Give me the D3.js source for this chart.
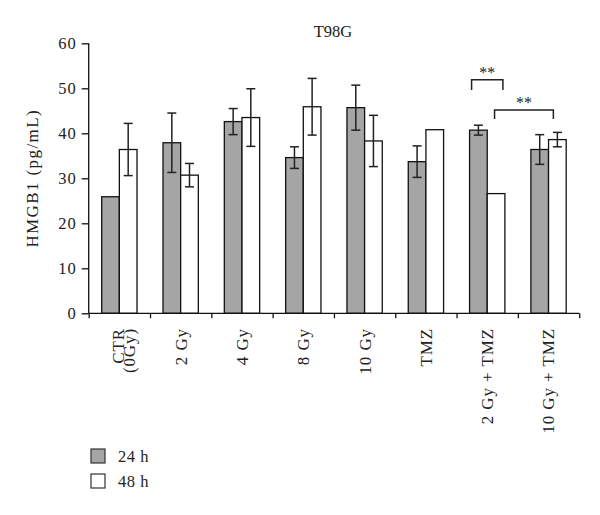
<!DOCTYPE html>
<html>
<head>
<meta charset="utf-8">
<script src="https://cdn.jsdelivr.net/npm/d3@7"></script>
<style>
  body { margin: 0; background: #fff; }
  svg text { font-family: "Liberation Serif", "DejaVu Serif", serif; fill: #222; }
</style>
</head>
<body>
<svg id="chart" width="600" height="515"></svg>
<script>
// data
const categories = ["CTR (0Gy)", "2 Gy", "4 Gy", "8 Gy", "10 Gy", "TMZ", "2 Gy + TMZ", "10 Gy + TMZ"];
const series = ["24 h", "48 h"];
const values24 = [25.9, 37.9, 42.6, 34.6, 45.7, 33.7, 40.7, 36.4];
const errors24 = [0, 6.6, 2.9, 2.4, 5.0, 3.5, 1.1, 3.3];
const values48 = [36.4, 30.7, 43.5, 45.9, 38.3, 40.8, 26.6, 38.6];
const errors48 = [5.8, 2.6, 6.4, 6.3, 5.7, 0, 0, 1.6];
const yTicks = [0, 10, 20, 30, 40, 50, 60];
// significance brackets
const brackets = [
  {c1: "2 Gy + TMZ", s1: "24 h", c2: "2 Gy + TMZ", s2: "48 h", top: 51.9, low: 49.6, label: "**"},
  {c1: "2 Gy + TMZ", s1: "48 h", c2: "10 Gy + TMZ", s2: "48 h", top: 45.2, low: 43.2, label: "**"}
];

const svg = d3.select("#chart");
const plotLeft = 88.7, plotRight = 579.2, plotTop = 43.3, plotBottom = 313.3;

const x0 = d3.scaleBand().domain(categories).range([plotLeft, plotRight]);
const x1 = d3.scaleBand().domain(series).range([13, x0.bandwidth() - 13]);
const y = d3.scaleLinear().domain([0, 60]).range([plotBottom, plotTop]);
const color = d3.scaleOrdinal().domain(series).range(["#a5a5a5", "#ffffff"]);

const rows = categories.map((c, i) => ({
  cat: c,
  items: [
    {s: "24 h", v: values24[i], e: errors24[i]},
    {s: "48 h", v: values48[i], e: errors48[i]}
  ]
}));

// bars
const groups = svg.append("g").selectAll("g")
  .data(rows).enter().append("g")
  .attr("transform", d => `translate(${x0(d.cat)},0)`);

groups.selectAll("rect")
  .data(d => d.items).enter().append("rect")
  .attr("x", d => x1(d.s))
  .attr("y", d => y(d.v))
  .attr("width", x1.bandwidth())
  .attr("height", d => y(0) - y(d.v))
  .attr("fill", d => color(d.s))
  .attr("stroke", "#111")
  .attr("stroke-width", 1.3);

// error bars
const cap = 4.5;
const eb = groups.selectAll("g.err")
  .data(d => d.items.filter(it => it.e > 0)).enter().append("g")
  .attr("class", "err")
  .attr("stroke", "#222")
  .attr("stroke-width", 1.5);
eb.append("line")
  .attr("x1", d => x1(d.s) + x1.bandwidth() / 2)
  .attr("x2", d => x1(d.s) + x1.bandwidth() / 2)
  .attr("y1", d => y(d.v + d.e))
  .attr("y2", d => y(d.v - d.e));
eb.append("line")
  .attr("x1", d => x1(d.s) + x1.bandwidth() / 2 - cap)
  .attr("x2", d => x1(d.s) + x1.bandwidth() / 2 + cap)
  .attr("y1", d => y(d.v + d.e))
  .attr("y2", d => y(d.v + d.e));
eb.append("line")
  .attr("x1", d => x1(d.s) + x1.bandwidth() / 2 - cap)
  .attr("x2", d => x1(d.s) + x1.bandwidth() / 2 + cap)
  .attr("y1", d => y(d.v - d.e))
  .attr("y2", d => y(d.v - d.e));

// y axis
const yAxis = svg.append("g")
  .attr("transform", `translate(${plotLeft},0)`)
  .call(d3.axisLeft(y).tickValues(yTicks).tickSize(7).tickPadding(5));
yAxis.selectAll("text")
  .style("font-size", "16.5px")
  .style("letter-spacing", "1px")
  .attr("fill", "#222");
yAxis.selectAll("line, path").attr("stroke", "#111").attr("stroke-width", 1.3);
yAxis.select(".domain").attr("d", `M0,${plotBottom}V${plotTop}`);

// x axis: ticks at the band edges
const xEdge = d3.scaleLinear().domain([0, categories.length]).range([plotLeft, plotRight]);
const xAxis = svg.append("g")
  .attr("transform", `translate(0,${plotBottom})`)
  .call(d3.axisBottom(xEdge).ticks(categories.length).tickSize(5).tickFormat(""));
xAxis.selectAll("line, path").attr("stroke", "#111").attr("stroke-width", 1.3);
xAxis.select(".domain").attr("d", `M${plotLeft},0H${plotRight}`);

// category labels, rotated
const labelTop = 328;
const xl = svg.append("g").selectAll("text")
  .data(categories).enter().append("text")
  .attr("transform", d => `translate(${x0(d) + x0.bandwidth() / 2},${labelTop}) rotate(-90)`)
  .attr("text-anchor", "end")
  .style("font-size", "17px")
  .style("letter-spacing", "0.9px");
xl.each(function(d) {
  const t = d3.select(this);
  if (d === "CTR (0Gy)") {
    t.append("tspan").attr("x", 0).attr("dy", "4.5").text("CTR");
    t.append("tspan").attr("x", 0).attr("dy", "11").text("(0Gy)");
  } else {
    t.attr("dy", "0.35em").text(d);
  }
});

// title
svg.append("text")
  .attr("x", 333).attr("y", 37)
  .attr("text-anchor", "middle")
  .style("font-size", "16.5px")
  .text("T98G");

// y label
svg.append("text")
  .attr("transform", `translate(38,${(plotTop + plotBottom) / 2}) rotate(-90)`)
  .attr("text-anchor", "middle")
  .style("font-size", "17px")
  .style("letter-spacing", "1.4px")
  .text("HMGB1 (pg/mL)");

// significance brackets
const bx = (c, s) => x0(c) + x1(s) + x1.bandwidth() / 2;
const ends = d => d.c1 === d.c2
  ? [x0(d.c1) + x1(d.s1) + 2, x0(d.c2) + x1(d.s2) + x1.bandwidth() - 2]
  : [bx(d.c1, d.s1) - 1.5, bx(d.c2, d.s2) - 4];
const bg = svg.append("g").selectAll("g").data(brackets).enter().append("g");
bg.append("path")
  .attr("d", d => {
    const [a, b] = ends(d);
    return `M${a},${y(d.low)}V${y(d.top)}H${b}V${y(d.low)}`;
  })
  .attr("fill", "none")
  .attr("stroke", "#222")
  .attr("stroke-width", 1.5);
bg.append("text")
  .attr("x", d => d3.mean(ends(d)))
  .attr("y", d => y(d.top) - 1.5)
  .attr("text-anchor", "middle")
  .style("font-size", "16px")
  .text(d => d.label);

// legend
const lg = svg.append("g").selectAll("g")
  .data(series).enter().append("g")
  .attr("transform", (d, i) => `translate(91,${449 + i * 25})`);
lg.append("rect")
  .attr("width", 14).attr("height", 14)
  .attr("fill", d => color(d))
  .attr("stroke", "#333").attr("stroke-width", 1.2);
lg.append("text")
  .attr("x", 27).attr("y", 12.5)
  .style("font-size", "16.5px")
  .style("letter-spacing", "0.5px")
  .text(d => d);
</script>
</body>
</html>
